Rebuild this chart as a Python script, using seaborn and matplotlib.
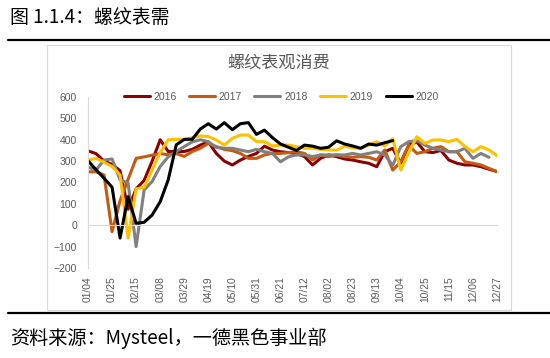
import numpy as np
import pandas as pd
import matplotlib
matplotlib.use("Agg")
import matplotlib.pyplot as plt
import seaborn as sns
from matplotlib.patches import Rectangle
from matplotlib.lines import Line2D

# ---------------- data ----------------
weeks = ["01/04", "01/11", "01/18", "01/25", "02/01", "02/08", "02/15", "02/22",
         "03/01", "03/08", "03/15", "03/22", "03/29", "04/05", "04/12", "04/19",
         "04/26", "05/03", "05/10", "05/17", "05/24", "05/31", "06/07", "06/14",
         "06/21", "06/28", "07/05", "07/12", "07/19", "07/26", "08/02", "08/09",
         "08/16", "08/23", "08/30", "09/06", "09/13", "09/20", "09/27", "10/04",
         "10/11", "10/18", "10/25", "11/01", "11/08", "11/15", "11/22", "11/29",
         "12/06", "12/13", "12/20", "12/27"]
tick_labels = ["01/04", "01/25", "02/15", "03/08", "03/29", "04/19", "05/10", "05/31",
               "06/21", "07/12", "08/02", "08/23", "09/13", "10/04", "10/25", "11/15",
               "12/06", "12/27"]
years = ["2016", "2017", "2018", "2019", "2020"]

y2016 = [348, 335, 300, 285, 255, 75, 170, 210, 300, 400, 345, 345, 345, 355, 375, 390,
         336, 300, 282, 305, 322, 336, 370, 352, 344, 340, 336, 321, 282, 313, 329, 321,
         310, 305, 297, 290, 274, 344, 360, 290, 375, 390, 344, 340, 350, 305, 290, 282,
         282, 274, 262, 251]
y2017 = [250, 250, 235, -30, 115, 215, 313, 320, 328, 335, 330, 335, 322, 345, 360, 383,
         368, 355, 349, 336, 313, 313, 329, 336, 336, 340, 344, 336, 305, 329, 321, 329,
         321, 318, 321, 318, 305, 352, 258, 297, 375, 336, 344, 360, 368, 344, 344, 297,
         290, 282, 266, 251]
y2018 = [272, 258, 305, 310, 212, 198, -100, 165, 205, 275, 320, 345, 368, 390, 400, 391,
         364, 360, 360, 352, 344, 355, 344, 336, 297, 320, 329, 329, 321, 329, 329, 329,
         329, 336, 329, 336, 344, 329, 280, 368, 391, 396, 375, 360, 352, 344, 344, 360,
         313, 336, 318, np.nan]
y2019 = [305, 313, 295, 275, 235, -60, 170, 178, 260, 340, 400, 402, 400, 410, 418, 415,
         399, 375, 407, 422, 422, 391, 391, 371, 375, 375, 368, 360, 360, 355, 352, 352,
         370, 362, 360, 375, 391, 371, 405, 258, 340, 414, 383, 399, 399, 391, 402, 368,
         344, 368, 352, 325]
y2020 = [302, 260, 220, 178, -60, 134, 9, 14, 48, 110, 212, 376, 402, 402, 450, 475,
         450, 480, 447, 475, 480, 425, 445, 410, 380, 365, 350, 375, 370, 360, 365, 395,
         380, 371, 360, 380, 375, 386, 396] + [np.nan] * 13

series = {"2016": y2016, "2017": y2017, "2018": y2018, "2019": y2019, "2020": y2020}
palette = {"2016": "#8B0000", "2017": "#C55A11", "2018": "#808080",
           "2019": "#FFC000", "2020": "#000000"}

rows = []
for yr in years:
    for i, v in enumerate(series[yr]):
        rows.append({"pos": i, "week": weeks[i], "year": yr, "value": v})
df = pd.DataFrame(rows).dropna()

# ---------------- style ----------------
sns.set_style("white")
plt.rcParams["font.family"] = ["Liberation Sans", "Noto Sans CJK SC", "DejaVu Sans"]

W, H = 550, 358
fig = plt.figure(figsize=(W / 100, H / 100), dpi=100)
fig.patch.set_facecolor("white")

def fx(px):
    return px / W

def fy(py):
    return 1 - py / H

# chart frame
fig.patches.append(Rectangle((fx(47), fy(310)), fx(511) - fx(47), fy(45) - fy(310),
                             transform=fig.transFigure, fill=False,
                             edgecolor="#D9D9D9", linewidth=0.8, zorder=0))
# header / footer rules
fig.add_artist(Line2D([fx(8), 1.0], [fy(40), fy(40)], transform=fig.transFigure,
                      color="black", linewidth=1.6))
fig.add_artist(Line2D([fx(8), 1.0], [fy(313), fy(313)], transform=fig.transFigure,
                      color="black", linewidth=1.6))

fig.text(fx(10), fy(17), "图 1.1.4：螺纹表需", fontsize=13.6, color="black",
         ha="left", va="center", family=["Noto Sans CJK SC"])
fig.text(fx(10), fy(338), "资料来源：Mysteel，一德黑色事业部", fontsize=13.8,
         color="black", ha="left", va="center", family=["Noto Sans CJK SC"])
fig.text(fx(279), fy(63), "螺纹表观消费", fontsize=12.3, color="#595959",
         ha="center", va="center", family=["Noto Sans CJK SC"])

ax = fig.add_axes([fx(88), fy(268), fx(497) - fx(88), fy(97) - fy(268)])
ax.set_facecolor("none")

sns.lineplot(data=df, x="pos", y="value", hue="year", hue_order=years,
             palette=palette, linewidth=2.2, ax=ax, sort=False, legend=True)

ax.set_xlim(0, len(weeks) - 1)
ax.set_ylim(-200, 600)
ax.set_yticks(np.arange(-200, 601, 100))
ax.set_xlabel("")
ax.set_ylabel("")

for s in ["top", "right"]:
    ax.spines[s].set_visible(False)
ax.spines["left"].set_color("#D9D9D9")
ax.spines["left"].set_linewidth(0.8)
ax.spines["bottom"].set_position(("data", 0))
ax.spines["bottom"].set_color("#D9D9D9")
ax.spines["bottom"].set_linewidth(0.8)

tick_pos = [weeks.index(t) for t in tick_labels]
ax.set_xticks(tick_pos)
ax.tick_params(axis="x", direction="out", length=3.5, width=0.8, color="#D9D9D9",
               labelbottom=False)
ax.tick_params(axis="y", direction="out", length=2.5, width=0.8, color="#D9D9D9",
               labelsize=7.5, labelcolor="#595959", pad=5.5)

sec = ax.secondary_xaxis("bottom")
sec.set_xticks(tick_pos, labels=tick_labels)
sec.tick_params(length=0, labelsize=7.4, labelcolor="#595959", rotation=90, pad=6)
sec.spines["bottom"].set_visible(False)

sns.move_legend(ax, "center", bbox_to_anchor=(fx(281), fy(97)),
                bbox_transform=fig.transFigure, ncol=5, frameon=False, title=None,
                fontsize=7.5, handlelength=2.5, handletextpad=0.35,
                columnspacing=1.2, borderaxespad=0)
for t in ax.get_legend().get_texts():
    t.set_color("#595959")
for h in ax.get_legend().legend_handles:
    h.set_linewidth(2.2)

fig.savefig("out.png", dpi=100, facecolor="white")
